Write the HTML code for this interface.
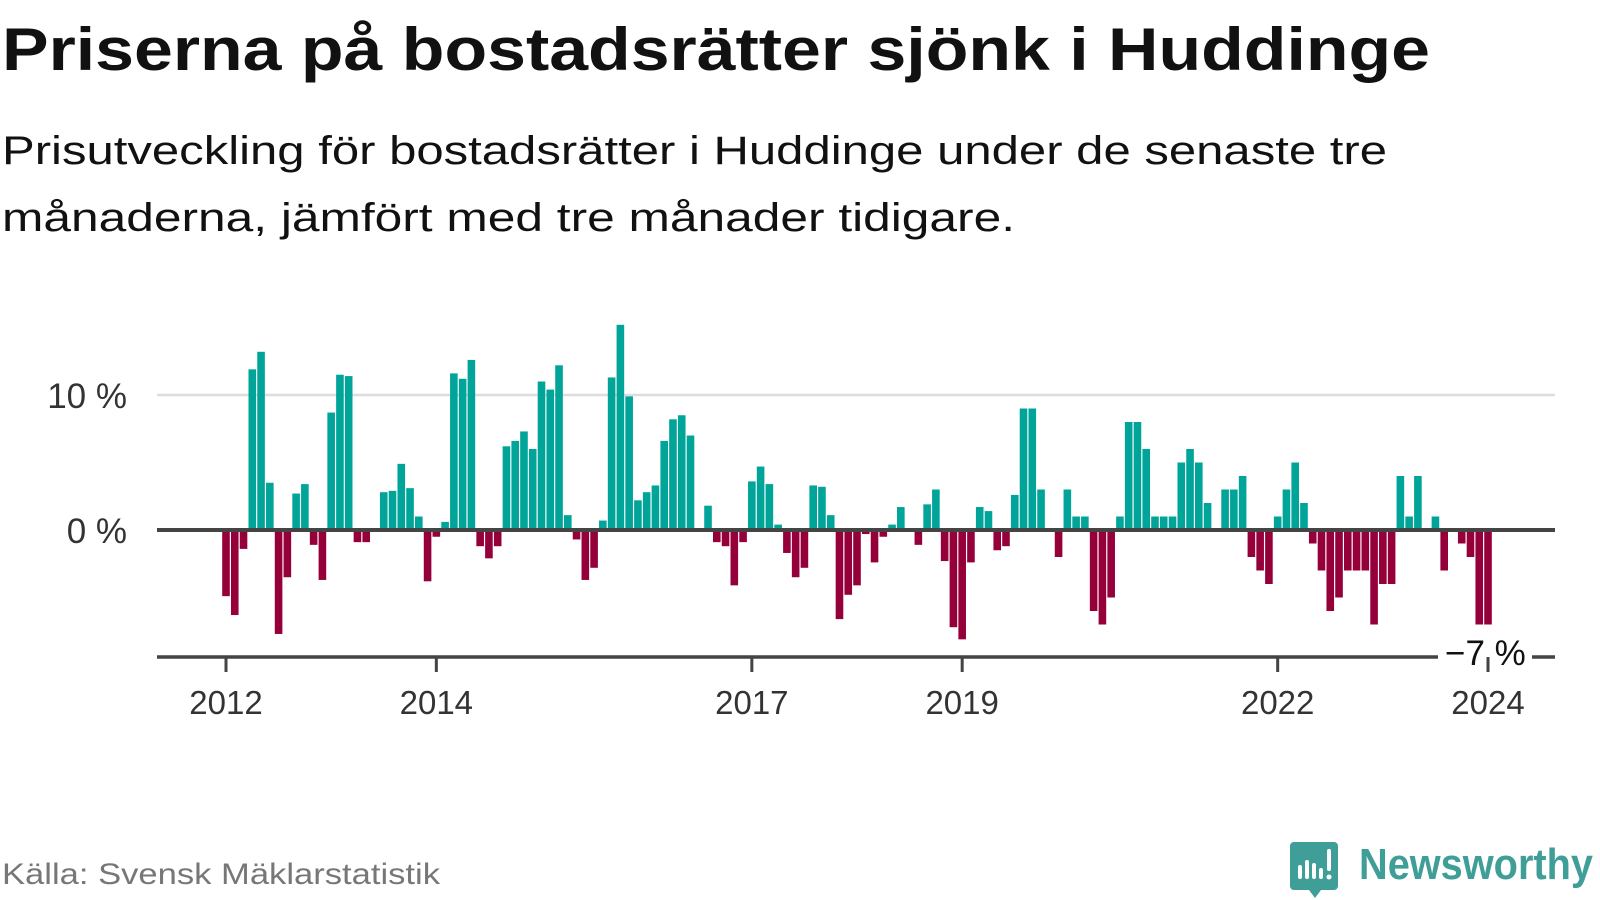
<!DOCTYPE html>
<html><head><meta charset="utf-8"><style>
html,body{margin:0;padding:0;background:#fff;}
svg{display:block;font-family:"Liberation Sans",sans-serif;}
</style></head><body>
<svg id="chart" width="1600" height="900" viewBox="0 0 1600 900">
<text x="2" y="70" font-size="60" font-weight="bold" fill="#111" textLength="1428" lengthAdjust="spacingAndGlyphs">Priserna på bostadsrätter sjönk i Huddinge</text>
<text x="2" y="164" font-size="40" fill="#111" textLength="1385" lengthAdjust="spacingAndGlyphs">Prisutveckling för bostadsrätter i Huddinge under de senaste tre</text>
<text x="2" y="231" font-size="40" fill="#111" textLength="1013" lengthAdjust="spacingAndGlyphs">månaderna, jämfört med tre månader tidigare.</text>
<g id="grid"></g>
<g id="bars"></g>
<g id="axes"></g>
<text x="2" y="884" font-size="30" fill="#777" textLength="438" lengthAdjust="spacingAndGlyphs">Källa: Svensk Mäklarstatistik</text>
<g>
<path d="M1294 842 h40 a4 4 0 0 1 4 4 v40 a4 4 0 0 1 -4 4 h-13 l-6 8 l-6 -8 h-15 a4 4 0 0 1 -4 -4 v-40 a4 4 0 0 1 4 -4z" fill="#3f9e97"/>
<rect x="1298" y="865" width="4" height="14" rx="2" fill="#fff"/>
<rect x="1305" y="860" width="4" height="19" rx="2" fill="#fff"/>
<rect x="1312" y="863" width="4" height="16" rx="2" fill="#fff"/>
<rect x="1319" y="868" width="4" height="11" rx="2" fill="#fff"/>
<rect x="1327" y="849" width="4" height="22" rx="2" fill="#fff"/>
<circle cx="1329" cy="877" r="2.5" fill="#fff"/>
<text x="1359" y="879" font-size="44" font-weight="bold" fill="#3f9e97" textLength="234" lengthAdjust="spacingAndGlyphs">Newsworthy</text>
</g>
</svg>
<script>
const values = [-4.9,-6.3,-1.4,11.9,13.2,3.5,-7.7,-3.5,2.7,3.4,-1.1,-3.7,
8.7,11.5,11.4,-0.9,-0.9,0,2.8,2.9,4.9,3.1,1.0,-3.8,
-0.5,0.6,11.6,11.2,12.6,-1.2,-2.1,-1.2,6.2,6.6,7.3,6.0,
11.0,10.4,12.2,1.1,-0.7,-3.7,-2.8,0.7,11.3,15.2,9.9,2.2,
2.8,3.3,6.6,8.2,8.5,7.0,0,1.8,-0.9,-1.2,-4.1,-0.9,
3.6,4.7,3.4,0.4,-1.7,-3.5,-2.8,3.3,3.2,1.1,-6.6,-4.8,
-4.1,-0.3,-2.4,-0.5,0.4,1.7,0,-1.1,1.9,3.0,-2.3,-7.2,
-8.1,-2.4,1.7,1.4,-1.5,-1.2,2.6,9,9,3,0,-2,
3,1,1,-6,-7,-5,1,8,8,6,1,1,
1,5,6,5,2,0,3,3,4,-2,-3,-4,
1,3,5,2,-1,-3,-6,-5,-3,-3,-3,-7,
-4,-4,4,1,4,0,1,-3,0,-1,-2,-7,-7];
const yTicks = [0, 10];
const yTickLabels = ["0 %", "10 %"];
const xTickYears = [2012, 2014, 2017, 2019, 2022, 2024];
const lastLabel = "−7 %";

const NS = "http://www.w3.org/2000/svg";
const x0 = 226, pitch = 8.764, bw = 7.6;
const yZero = 530, pxPer = 13.5;
const xScale = i => x0 + i * pitch;
const yScale = v => yZero - v * pxPer;
function mk(tag, attrs, parent){const e=document.createElementNS(NS,tag);for(const k in attrs)e.setAttribute(k,attrs[k]);parent.appendChild(e);return e;}

const grid = document.getElementById('grid');
yTicks.forEach((t,k)=>{
  if(t!==0){
    const l = mk('line',{x1:157,x2:1555,y1:yScale(t),y2:yScale(t),stroke:'#dddddd','stroke-width':2.5},grid);
    
    
  }
  const tx = mk('text',{x:127,y:yScale(t)+13,'font-size':35,fill:'#333','text-anchor':'end'},grid);
  tx.textContent = yTickLabels[k];
  
  
});

const bars = document.getElementById('bars');
values.forEach((v,i)=>{
  if(v===0) return;
  const cx = xScale(i);
  const y = v>0 ? yScale(v) : yZero+1;
  const h = Math.abs(v)*pxPer - 1;
  const r = mk('rect',{x:cx-bw/2,y:y,width:bw,height:Math.max(h,1),fill:v>0?'#00a499':'#95003a'},bars);
  
  
});

const axes = document.getElementById('axes');
const z = mk('line',{x1:157,x2:1555,y1:yZero,y2:yZero,stroke:'#444','stroke-width':4},axes);


const ax = mk('line',{x1:157,x2:1555,y1:657,y2:657,stroke:'#444','stroke-width':3.5},axes);


xTickYears.forEach(yr=>{
  const cx = xScale((yr-2012)*12);
  const t = mk('line',{x1:cx,x2:cx,y1:657,y2:672,stroke:'#444','stroke-width':3},axes);
  
  
  const tx = mk('text',{x:cx,y:714,'font-size':33,fill:'#333','text-anchor':'middle'},axes);
  tx.textContent = String(yr);
  
  
});
const bg = mk('rect',{x:1438,y:636,width:94,height:18,fill:'#fff'},axes);


const bg2 = mk('rect',{x:1438,y:654,width:94,height:7,fill:'#fff'},axes);


const tick2024 = mk('line',{x1:xScale(144),x2:xScale(144),y1:657,y2:672,stroke:'#444','stroke-width':3},axes);


const lv = mk('text',{x:1445,y:665,'font-size':35,fill:'#111'},axes);
lv.textContent = lastLabel;


</script>
</body></html>
